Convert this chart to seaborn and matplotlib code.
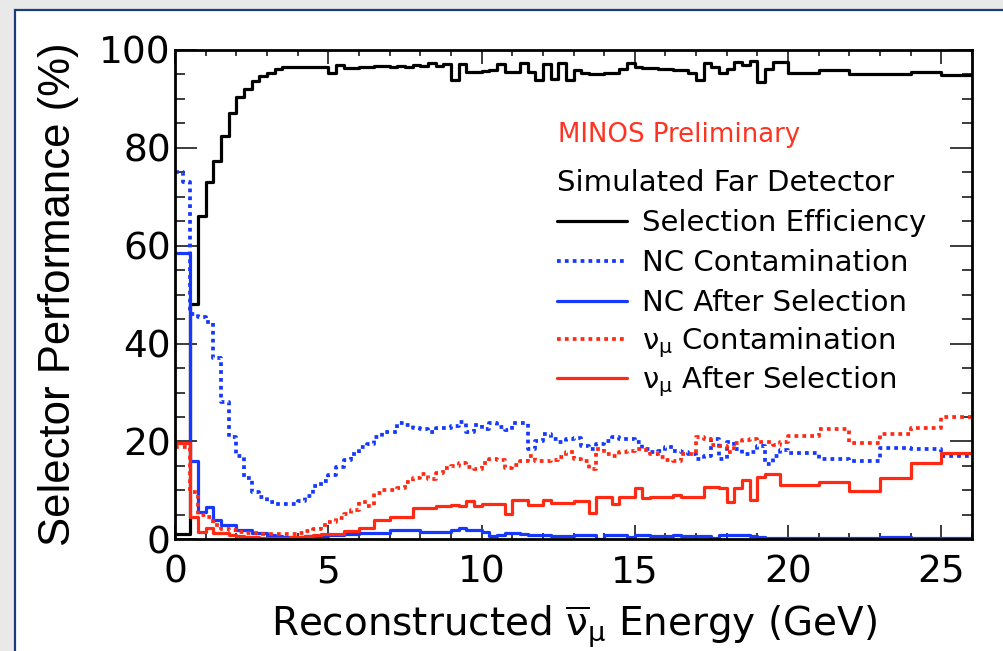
import numpy as np
import pandas as pd
import matplotlib
matplotlib.use("Agg")
import matplotlib.pyplot as plt
from matplotlib.patches import Rectangle
from matplotlib.ticker import MultipleLocator
import seaborn as sns

# ---------------- data ----------------
# 0.25 GeV bins from 0 to 20 GeV, then 1 GeV bins up to 26 GeV
bin_edges = [float(v) for v in np.concatenate([np.arange(0, 20, 0.25), np.arange(20, 27, 1.0)])]

selection_efficiency = [
    1, 1, 48, 66, 73, 77.3, 82.4, 87.2, 90.3, 92, 93.6, 94.7, 95.4, 96.1, 96.5, 96.6, 96.6, 96.6, 96.6, 96.6,
    95.2, 96.9, 96.4, 96.4, 96.5, 96.5, 96.7, 96.7, 96.5, 96.7, 96.5, 96.9, 96.7, 97.3, 96.7, 97.2, 93.9, 97.2, 95.6, 95.6,
    95.8, 95.9, 97.2, 95.6, 95.6, 97.4, 95.6, 93.9, 97.2, 94.1, 97.4, 93.9, 95.9, 95.4, 95.0, 95.0, 95.2, 95.2, 96.1, 97.4,
    96.5, 96.4, 96.3, 96.2, 96.1, 95.9, 95.9, 95.2, 93.9, 97.4, 96.5, 95.4, 96.1, 97.6, 96.9, 97.8, 93.5, 96.1, 97.6, 97.6,
    95.2, 95.9, 95.0, 95.0, 95.6, 94.8,
]
nc_contamination = [
    75, 73, 46, 45.5, 44.5, 37, 28, 21, 17, 12.5, 9.6, 8.6, 7.6, 7.3, 7.2, 7.2, 7.8, 8.8, 10.8, 12,
    13.2, 14.7, 16.3, 17.5, 18.8, 19.5, 21, 22, 22, 23.7, 23.3, 22.8, 22.5, 21.9, 22.8, 22.8, 23.2, 24, 22, 23.3,
    22.5, 23.7, 23, 22.3, 23.7, 23.7, 18.5, 20, 21.5, 20.5, 19.8, 20.5, 20.8, 19, 18.5, 19.5, 20, 21, 20.5, 20.5,
    19.8, 18.5, 17.8, 18, 18.8, 18, 17.8, 17.5, 16.5, 17, 20.5, 16.5, 19.8, 18.5, 17.5, 17.8, 19, 15.3, 17, 18.3,
    17.7, 16.4, 16, 18.7, 18.4, 17,
]
nc_after_selection = [
    58.5, 58.5, 16, 5.6, 6.7, 3.9, 2.9, 2.9, 1.9, 1.9, 1.2, 1.2, 0.8, 0.6, 0.5, 0.5, 0.5, 0.6, 0.6, 0.7,
    0.8, 0.9, 1.0, 1.0, 1.2, 1.2, 1.3, 1.3, 1.8, 2.0, 2.0, 1.9, 1.4, 1.4, 1.4, 1.5, 1.9, 2.4, 2.0, 1.9,
    1.4, 0.7, 0.8, 1.2, 1.2, 1.1, 0.9, 0.9, 0.9, 0.6, 0.6, 0.6, 0.9, 0.9, 0.9, 0.1, 0.9, 0.9, 0.9, 0.4,
    0.9, 0.9, 0.7, 0.7, 0.7, 0.8, 0.7, 0.6, 0.6, 0.6, 0.2, 0.8, 0.9, 0.9, 0.9, 0.6, 0.4, 0.3, 0.3, 0.3,
    0.3, 0.3, 0.3, 0.5, 0.3, 0.3,
]
numu_contamination = [
    18.8, 18.8, 9.6, 5, 4.5, 3, 2.2, 1.8, 1.4, 1.3, 1.2, 1.1, 1.0, 1.0, 1.0, 1.0, 1.3, 1.7, 2.2, 2.9,
    3.6, 4.3, 5.2, 6, 7.6, 6.9, 9.5, 10, 10, 10.5, 11.8, 12.5, 13.3, 12.3, 13.5, 14.5, 15, 15.5, 14.8, 14.3,
    15.5, 16.5, 16.3, 14.6, 15.2, 16, 17, 16, 16, 16.2, 16.8, 17.9, 16.5, 16, 14.3, 18.5, 17.5, 17, 17.8, 18,
    18.5, 18.3, 17.5, 16.9, 16.3, 16, 17.4, 17.5, 21, 20.5, 19.2, 19, 17.8, 19.6, 20.2, 20.4, 19.9, 19.9, 19.2, 19.8,
    21.1, 22.5, 19.7, 21.5, 22.8, 24.9,
]
numu_after_selection = [
    19.6, 19.6, 4.5, 1.5, 2.3, 1.3, 1.2, 0.9, 0.7, 0.5, 0.4, 0.3, 0.3, 0.3, 0.3, 0.4, 0.5, 0.6, 0.8, 1.0,
    1.0, 1.1, 1.6, 1.6, 2.4, 2.4, 4.0, 4.0, 4.6, 4.6, 4.6, 6.4, 6.4, 6.4, 6.9, 6.9, 7.0, 6.9, 7.8, 6.9,
    7.3, 7.3, 7.2, 5.1, 8.1, 8.1, 7.0, 7.0, 8.0, 7.5, 7.5, 7.5, 7.8, 7.8, 5.4, 8.7, 8.7, 7.2, 8.7, 8.7,
    10.5, 8.4, 8.6, 8.7, 8.7, 9.0, 8.7, 8.7, 8.7, 10.7, 10.7, 10.5, 7.7, 10.5, 12.1, 8.0, 12.8, 13.3, 13.3, 11.1,
    11.1, 11.8, 9.9, 12.5, 15.5, 17.7,
]

series_labels = [
    "Selection Efficiency",
    "NC Contamination",
    "NC After Selection",
    r"$\mathrm{\nu}_{\mathrm{\mu}}$ Contamination",
    r"$\mathrm{\nu}_{\mathrm{\mu}}$ After Selection",
]
x_ticks = [0, 5, 10, 15, 20, 25]
y_ticks = [0, 20, 40, 60, 80, 100]

# ---------------- styling ----------------
sns.set_theme(style="ticks")
plt.rcParams["font.family"] = ["DejaVu Sans"]
plt.rcParams["mathtext.fontset"] = "dejavusans"
plt.rcParams["text.color"] = "black"
plt.rcParams["axes.labelcolor"] = "black"
plt.rcParams["xtick.labelcolor"] = "black"
plt.rcParams["ytick.labelcolor"] = "black"

BLACK = "#000000"
BLUE = "#1638ff"
RED = "#ff2a14"
DOT = (0, (1.0, 1.1))
styles = [
    dict(color=BLACK, linestyle="-", linewidth=2.3),
    dict(color=BLUE, linestyle=DOT, linewidth=2.7),
    dict(color=BLUE, linestyle="-", linewidth=2.3),
    dict(color=RED, linestyle=DOT, linewidth=2.7),
    dict(color=RED, linestyle="-", linewidth=2.3),
]

edges_arr = np.asarray(bin_edges)
centers = (edges_arr[:-1] + edges_arr[1:]) / 2
all_values = [selection_efficiency, nc_contamination, nc_after_selection,
              numu_contamination, numu_after_selection]
df = pd.DataFrame({
    "energy": np.tile(centers, len(all_values)),
    "value": np.concatenate([np.asarray(v, dtype=float) for v in all_values]),
    "series": np.repeat(series_labels, len(centers)),
})

fig = plt.figure(figsize=(10.04, 6.51), dpi=100)
fig.patch.set_facecolor("#e9e9e9")
panel = Rectangle((15 / 1004, -0.1), 1.2, 1 - 10 / 651 + 0.1, transform=fig.transFigure,
                  facecolor="white", edgecolor="#1b3b7a", linewidth=1.6, zorder=-5)
fig.patches.append(panel)

ax = fig.add_axes([175 / 1004, 1 - 539.3 / 651, (972 - 175) / 1004, (539.3 - 50) / 651])
ax.set_facecolor("white")

handles = []
for lab, st in zip(series_labels, styles):
    sub = df[df["series"] == lab]
    sns.histplot(data=sub, x="energy", weights="value", bins=bin_edges,
                 element="step", fill=False, ax=ax, **st)
    handles.append(ax.lines[-1])

ax.set_xlim(0, 26)
ax.set_ylim(0, 100)
ax.set_xticks(x_ticks)
ax.set_yticks(y_ticks)
ax.xaxis.set_minor_locator(MultipleLocator(1))
ax.yaxis.set_minor_locator(MultipleLocator(5))
ax.tick_params(which="both", direction="in", top=True, right=True, color="#1a1a1a", width=1.2,
               labelcolor="black")
ax.tick_params(axis="x", which="major", length=10, pad=11, labelsize=27)
ax.tick_params(axis="x", which="minor", length=4.5)
ax.tick_params(axis="y", which="major", length=15.5, pad=3, labelsize=27)
ax.tick_params(axis="y", which="minor", length=7.5)
for s in ax.spines.values():
    s.set_linewidth(2.0)
    s.set_color("black")

ax.set_xlabel(r"Reconstructed $\overline{\mathrm{\nu}}_{\mathrm{\mu}}$ Energy (GeV)", fontsize=28,
              color="black")
ax.set_ylabel("Selector Performance (%)", fontsize=31.5, color="black",
              fontfamily="Liberation Sans")
ax.xaxis.set_label_coords(0.5, -0.132)
ax.yaxis.set_label_coords(-0.121, 0.5)

fig.text(558 / 1004, 1 - 135 / 651, "MINOS Preliminary", color="#ff3322",
         fontsize=18.7, va="center", ha="left")

common = dict(loc="upper left", bbox_transform=fig.transFigure, frameon=False, fontsize=21,
              alignment="left", handlelength=2.4, handletextpad=0.5,
              borderpad=0, borderaxespad=0)
leg1 = ax.legend(handles[:3], series_labels[:3], bbox_to_anchor=(557 / 1004, 1 - 169 / 651),
                 title="Simulated Far Detector", title_fontsize=21, labelspacing=0.41, **common)
ax.add_artist(leg1)
leg2 = ax.legend(handles[3:], series_labels[3:], bbox_to_anchor=(557 / 1004, 1 - 325 / 651),
                 labelspacing=0.15, **common)
for lg in (leg1, leg2):
    for t in lg.get_texts():
        t.set_color("black")
leg1.get_title().set_color("black")

fig.savefig("out.png", dpi=100, facecolor=fig.get_facecolor())
